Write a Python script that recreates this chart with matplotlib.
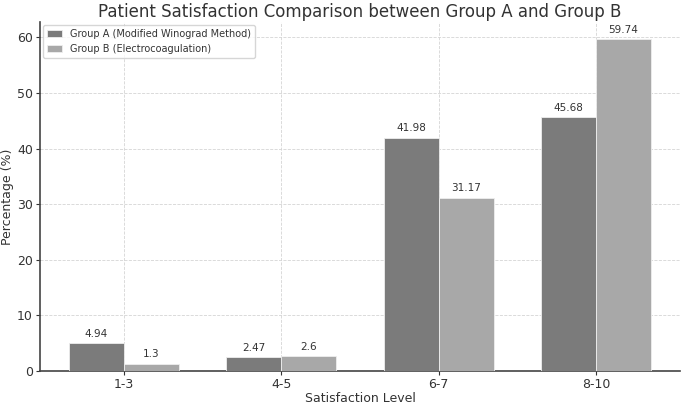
import matplotlib
matplotlib.use('Agg')
import matplotlib.pyplot as plt
import numpy as np

levels = ['1-3', '4-5', '6-7', '8-10']
group_a = [4.94, 2.47, 41.98, 45.68]
group_b = [1.3, 2.6, 31.17, 59.74]
label_a = 'Group A (Modified Winograd Method)'
label_b = 'Group B (Electrocoagulation)'

fig, ax = plt.subplots(figsize=(6.85, 4.04), dpi=100)
x = np.arange(len(levels))
w = 0.35

bars_a = ax.bar(x - w/2, group_a, w, color='#7b7b7b', edgecolor='#eeeeee', linewidth=0.6, label=label_a, zorder=3)
bars_b = ax.bar(x + w/2, group_b, w, color='#a8a8a8', edgecolor='#eeeeee', linewidth=0.6, label=label_b, zorder=3)

for bars in (bars_a, bars_b):
    for b in bars:
        h = b.get_height()
        ax.annotate(f'{h:g}', (b.get_x() + b.get_width()/2, h), xytext=(0, 3),
                    textcoords='offset points', ha='center', va='bottom', fontsize=7.5, color='#333333')

ax.set_xticks(x)
ax.set_xticklabels(levels)
ax.set_xlabel('Satisfaction Level', fontsize=9, color='#333333', labelpad=1)
ax.set_ylabel('Percentage (%)', fontsize=9, color='#333333', labelpad=2)
ax.set_title('Patient Satisfaction Comparison between Group A and Group B', fontsize=12, color='#333333', pad=4)
ax.tick_params(labelsize=9, colors='#333333', length=3, pad=2)
ax.grid(True, linestyle='--', color='#d5d5d5', linewidth=0.6, zorder=0)
for s in ['top', 'right']:
    ax.spines[s].set_visible(False)
for s in ['left', 'bottom']:
    ax.spines[s].set_color('#444444')
    ax.spines[s].set_linewidth(1.2)
ax.legend(loc='upper left', fontsize=7, frameon=True, labelcolor='#333333',
          handlelength=1.6, borderaxespad=0.3)

fig.subplots_adjust(left=0.058, right=0.993, top=0.945, bottom=0.082)
fig.savefig('out.png')
